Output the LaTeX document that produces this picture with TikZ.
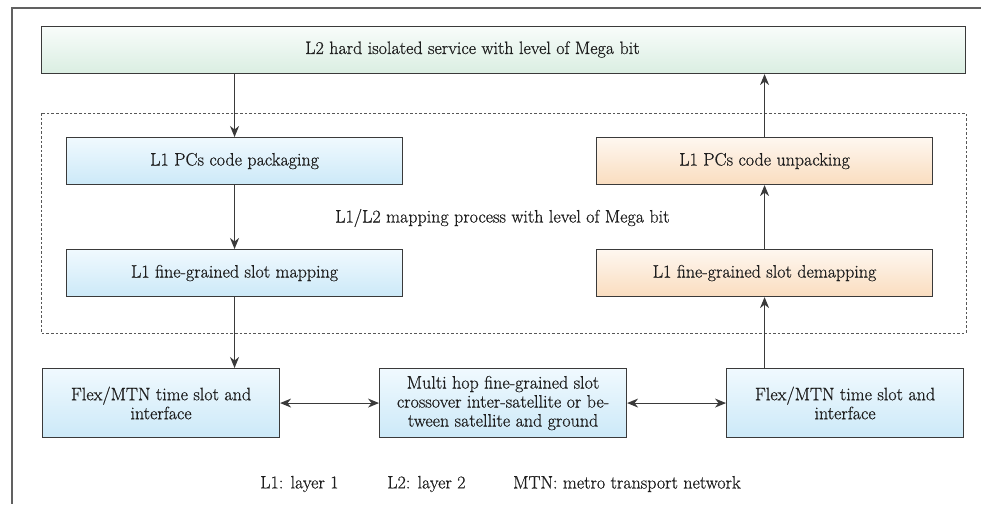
\documentclass[tikz,border=0pt]{standalone}
\usepackage{fontspec}
\setmainfont{Latin Modern Roman}[RawFeature={embolden=0.6}]
\usetikzlibrary{arrows.meta}
\definecolor{edgegray}{HTML}{3A3A3A}
\definecolor{textgray}{HTML}{1E1E1E}
\definecolor{greentop}{HTML}{F8FCFA}
\definecolor{greenbot}{HTML}{DAEEE2}
\definecolor{bluetop}{HTML}{F0F9FE}
\definecolor{bluebot}{HTML}{CCE9F8}
\definecolor{orangetop}{HTML}{FEF7F0}
\definecolor{orangebot}{HTML}{FADDBF}
\tikzset{
  box/.style={draw=edgegray, line width=1.1pt, anchor=north west, inner sep=0pt,
    align=center, text=textgray, font=\fontsize{18}{19}\selectfont},
  greenbox/.style={box, top color=greentop, bottom color=greenbot},
  bluebox/.style={box, top color=bluetop, bottom color=bluebot},
  orangebox/.style={box, top color=orangetop, bottom color=orangebot},
  flow/.style={draw=edgegray, line width=1.1pt, -{Stealth[length=11pt,width=9pt,inset=3.5pt]}},
  twoway/.style={draw=edgegray, line width=1.1pt,
    {Stealth[length=11pt,width=9pt,inset=3.5pt]}-{Stealth[length=11pt,width=9pt,inset=3.5pt]}},
  plain/.style={font=\fontsize{18}{19}\selectfont, text=textgray, inner sep=0pt},
}
\begin{document}
\begin{tikzpicture}[x=1pt, y=-1pt]
  \useasboundingbox (0,0) rectangle (981,504);

  % frame edges (top and left)
  \draw[edgegray!80, line width=1.4pt] (981,8) -- (12,8) -- (12,504);

  % dashed enclosure of the mapping stage
  \draw[edgegray!85, line width=1pt, dash pattern=on 2.6pt off 2pt] (41,113) rectangle (966,333);

  % service layer
  \node[greenbox, minimum width=924pt, minimum height=47pt] (svc) at (41,26) {};
  \node[plain, anchor=west] (svctext) at (305,49.5) {L2 hard isolated service with level of Mega bit};

  % sending side
  \node[bluebox, minimum width=336pt, minimum height=47pt] (pack) at (66,137) {L1 PCs code packaging};
  \node[bluebox, minimum width=336pt, minimum height=47pt] (map) at (66,249) {L1 fine-grained slot mapping};

  % receiving side
  \node[orangebox, minimum width=336pt, minimum height=47pt] (unpack) at (596,137) {L1 PCs code unpacking};
  \node[orangebox, minimum width=336pt, minimum height=47pt] (demap) at (596,249) {L1 fine-grained slot demapping};

  \node[plain, anchor=west] (maplabel) at (335,218) {L1/L2 mapping process with level of Mega bit};

  % transport row
  \node[bluebox, minimum width=237pt, minimum height=69pt] (flexL) at (42,368) {Flex/MTN time slot and\\interface};
  \node[bluebox, minimum width=247pt, minimum height=69pt] (multi) at (379,368)
    {Multi hop fine-grained slot\\crossover inter-satellite or be-\\tween satellite and ground};
  \node[bluebox, minimum width=237pt, minimum height=69pt] (flexR) at (726,368) {Flex/MTN time slot and\\interface};

  % connectors
  \draw[flow] (svc.south -| pack.north) -- (pack.north);
  \draw[flow] (pack.south) -- (map.north);
  \draw[flow] (map.south) -- (map.south |- flexL.north);
  \draw[flow] (flexR.north -| demap.south) -- (demap.south);
  \draw[flow] (demap.north) -- (unpack.south);
  \draw[flow] (unpack.north) -- (unpack.north |- svc.south);
  \draw[twoway] (flexL.east) -- (multi.west);
  \draw[twoway] (multi.east) -- (flexR.west);

  % legend
  \node[plain, anchor=west] (leg1) at (260,484) {L1: layer 1};
  \node[plain, anchor=west] (leg2) at (387,484) {L2: layer 2};
  \node[plain, anchor=west] (leg3) at (513,484) {MTN: metro transport network};
\end{tikzpicture}
\end{document}
